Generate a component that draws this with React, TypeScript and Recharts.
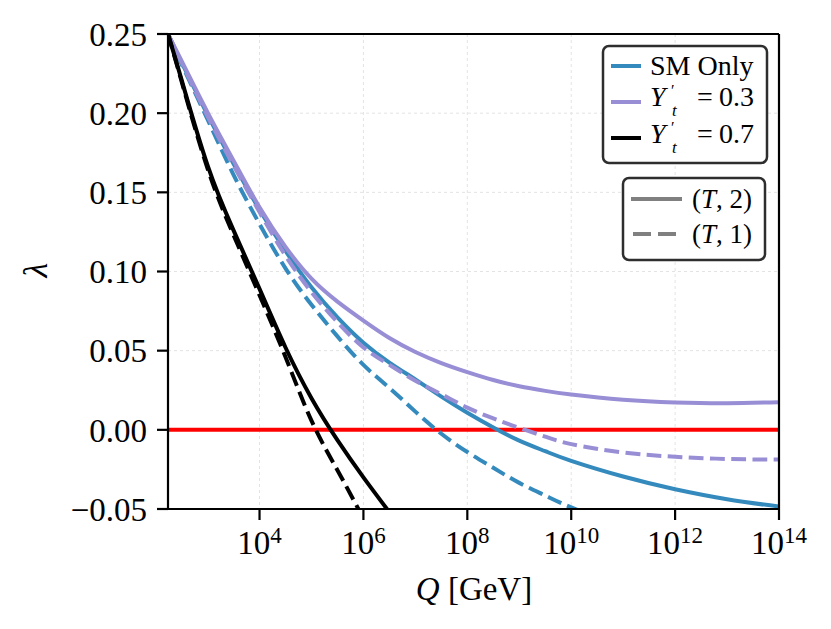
import React from 'react'
import { LineChart, Line, XAxis, YAxis, CartesianGrid, ReferenceLine, Legend } from 'recharts'

// log10(Q / GeV) sample points, Q from the top mass up to 1e14 GeV
const logQ = [2.238, 2.5, 3, 3.5, 4, 4.5, 5, 5.5, 6, 6.5, 7, 7.5, 8, 8.5, 9, 9.5, 10, 11, 12, 13, 14]

// lambda running
const smOnlyT2 = [0.25, 0.232, 0.199, 0.168, 0.139, 0.113, 0.09, 0.071, 0.055, 0.0425, 0.0318, 0.021, 0.0108, 0.0015, -0.0068, -0.0135, -0.0196, -0.0295, -0.0375, -0.0438, -0.0485]
const smOnlyT1 = [0.25, 0.231, 0.196, 0.161, 0.13, 0.102, 0.079, 0.059, 0.041, 0.0265, 0.0115, -0.0025, -0.014, -0.024, -0.0335, -0.0415, -0.049, -0.062, null, null, null]
const yt03T2 = [0.25, 0.233, 0.2005, 0.17, 0.1405, 0.1155, 0.0955, 0.081, 0.069, 0.058, 0.0492, 0.0422, 0.0365, 0.0315, 0.0275, 0.0246, 0.0223, 0.019, 0.0173, 0.0168, 0.0175]
const yt03T1 = [0.25, 0.232, 0.198, 0.167, 0.1375, 0.11, 0.087, 0.068, 0.052, 0.041, 0.031, 0.0225, 0.014, 0.0072, 0.0012, -0.0043, -0.009, -0.0143, -0.017, -0.0184, -0.0188]
const yt07T2 = [0.25, 0.221, 0.167, 0.126, 0.089, 0.052, 0.02, -0.0065, -0.03, -0.052, null, null, null, null, null, null, null, null, null, null, null]
const yt07T1 = [0.25, 0.22, 0.165, 0.123, 0.085, 0.046, 0.0058, -0.0255, -0.056, null, null, null, null, null, null, null, null, null, null, null, null]

const xTicks = [4, 6, 8, 10, 12, 14]
const yTicks = [-0.05, 0, 0.05, 0.1, 0.15, 0.2, 0.25]

const data = logQ.map((q, i) => ({
  logQ: q,
  smOnlyT2: smOnlyT2[i],
  smOnlyT1: smOnlyT1[i],
  yt03T2: yt03T2[i],
  yt03T1: yt03T1[i],
  yt07T2: yt07T2[i],
  yt07T1: yt07T1[i],
}))

const FONT = '"Liberation Serif", "DejaVu Serif", serif'
const BLUE = '#348ABD'
const PURPLE = '#988ED5'
const DASH = '14.8 6.4'

function PowerTick({ x, y, payload }: any) {
  return (
    <text x={x} y={y + 32} textAnchor="middle" fontFamily={FONT} fontSize={33} fill="#000">
      10<tspan dy={-11} fontSize={23}>{payload.value}</tspan>
    </text>
  )
}

function XLabel() {
  return (
    <text x={474} y={600} textAnchor="middle" fontFamily={FONT} fontSize={33} fill="#000">
      <tspan fontStyle="italic">Q</tspan> [GeV]
    </text>
  )
}

function YLabel() {
  return (
    <text x={47} y={270} transform="rotate(-90 47 270)" textAnchor="middle" fontFamily={FONT} fontSize={34} fontStyle="italic" fill="#000">
      λ
    </text>
  )
}

// Y'_t = value, laid out like the mathtext legend entry
function YtLabel({ y, value }: { y: number; value: string }) {
  return (
    <g fontFamily={FONT} fill="#000">
      <text x={650} y={y} fontSize={28} fontStyle="italic">Y</text>
      <text x={671} y={y - 10} fontSize={16}>′</text>
      <text x={672} y={y + 10} fontSize={17} fontStyle="italic">t</text>
      <text x={697} y={y} fontSize={28}>=</text>
      <text x={719} y={y} fontSize={28}>{value}</text>
    </g>
  )
}

function LegendBoxes() {
  return (
    <svg width={831} height={629} style={{ position: 'absolute', left: 0, top: 0 }}>
      <rect x={603} y={46} width={164} height={117} rx={6} fill="#fff" stroke="#2e2e2e" strokeWidth={2.5} />
      <line x1={611} x2={641} y1={66} y2={66} stroke={BLUE} strokeWidth={4} />
      <text x={650} y={75} fontFamily={FONT} fontSize={28} fill="#000">SM Only</text>
      <line x1={611} x2={641} y1={102} y2={102} stroke={PURPLE} strokeWidth={4} />
      <YtLabel y={106} value="0.3" />
      <line x1={611} x2={641} y1={138} y2={138} stroke="#000" strokeWidth={4} />
      <YtLabel y={143} value="0.7" />

      <rect x={623} y={178} width={142} height={82} rx={6} fill="#fff" stroke="#2e2e2e" strokeWidth={2.5} />
      <line x1={631} x2={682} y1={199} y2={199} stroke="#808080" strokeWidth={4} />
      <text x={692} y={208} fontFamily={FONT} fontSize={27} fill="#000">
        (<tspan fontStyle="italic">T</tspan>, 2)
      </text>
      <line x1={633} x2={680} y1={234} y2={234} stroke="#808080" strokeWidth={4} strokeDasharray="18 7" />
      <text x={692} y={243} fontFamily={FONT} fontSize={27} fill="#000">
        (<tspan fontStyle="italic">T</tspan>, 1)
      </text>
    </svg>
  )
}

export default function App() {
  return (
    <div style={{ position: 'absolute', left: 0, top: 0, width: 831, height: 629, background: '#fff' }}>
      <LineChart width={831} height={629} data={data} margin={{ top: 34, right: 52, bottom: 60, left: 0 }}>
        <CartesianGrid stroke="#e3e3e3" strokeDasharray="3 3" strokeWidth={1} />
        <XAxis
          dataKey="logQ"
          type="number"
          domain={[2.238, 14]}
          ticks={xTicks}
          interval={0}
          allowDataOverflow
          height={60}
          tickSize={11}
          tickMargin={2}
          tick={<PowerTick />}
          axisLine={{ stroke: '#000', strokeWidth: 2.2 }}
          tickLine={{ stroke: '#000', strokeWidth: 2.2 }}
          label={<XLabel />}
        />
        <YAxis
          type="number"
          domain={[-0.05, 0.25]}
          ticks={yTicks}
          interval={0}
          allowDataOverflow
          width={168}
          tickSize={11}
          tickMargin={10}
          tickFormatter={(v: number) => (v < 0 ? '\u2212' + Math.abs(v).toFixed(2) : v.toFixed(2))}
          tick={{ fill: '#000', fontSize: 33, fontFamily: FONT }}
          axisLine={{ stroke: '#000', strokeWidth: 2.2 }}
          tickLine={{ stroke: '#000', strokeWidth: 2.2 }}
          label={<YLabel />}
        />
        <ReferenceLine y={0} stroke="#ff0000" strokeWidth={4} />
        <Line dataKey="smOnlyT2" type="natural" stroke={BLUE} strokeWidth={4} dot={false} activeDot={false} isAnimationActive={false} />
        <Line dataKey="smOnlyT1" type="natural" stroke={BLUE} strokeWidth={4} strokeDasharray={DASH} dot={false} activeDot={false} isAnimationActive={false} />
        <Line dataKey="yt03T2" type="natural" stroke={PURPLE} strokeWidth={4} dot={false} activeDot={false} isAnimationActive={false} />
        <Line dataKey="yt03T1" type="natural" stroke={PURPLE} strokeWidth={4} strokeDasharray={DASH} dot={false} activeDot={false} isAnimationActive={false} />
        <Line dataKey="yt07T2" type="natural" stroke="#000" strokeWidth={4} dot={false} activeDot={false} isAnimationActive={false} />
        <Line dataKey="yt07T1" type="natural" stroke="#000" strokeWidth={4} strokeDasharray={DASH} dot={false} activeDot={false} isAnimationActive={false} />
        <ReferenceLine y={0.25} stroke="#000" strokeWidth={2.2} />
        <ReferenceLine x={14} stroke="#000" strokeWidth={2.2} />
        <Legend
          layout="horizontal"
          verticalAlign="middle"
          align="center"
          content={<LegendBoxes />}
          wrapperStyle={{ left: 0, top: 0, width: 831, height: 629, pointerEvents: 'none' }}
        />
      </LineChart>
    </div>
  )
}
